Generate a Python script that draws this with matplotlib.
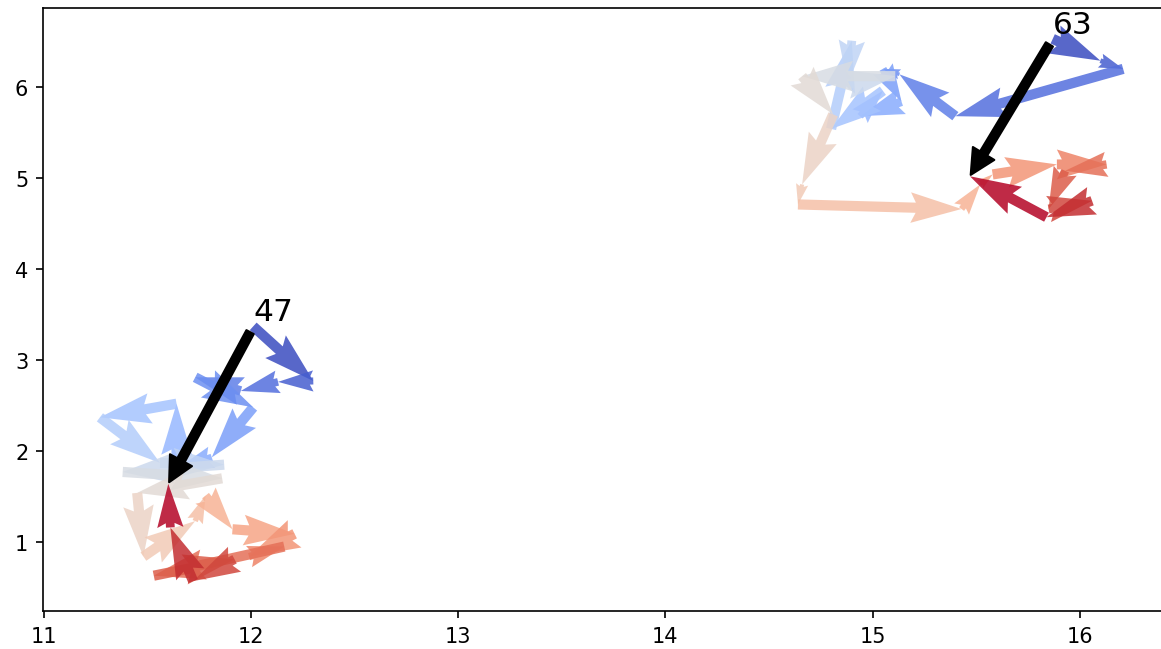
import numpy as np
import matplotlib
matplotlib.use("Agg")
import matplotlib.pyplot as plt

# trajectory 47 (start -> end)
x47 = [12.01, 12.30, 12.13, 11.95, 11.73, 12.01, 11.81, 11.64, 11.64, 11.27,
       11.56, 11.87, 11.38, 11.86, 11.45, 11.48, 11.73, 11.78, 11.91, 12.21,
       11.99, 12.16, 11.53, 11.92, 11.72, 11.61, 11.60]
y47 = [3.37, 2.77, 2.76, 2.66, 2.81, 2.48, 1.93, 1.80, 2.52, 2.37,
       1.87, 1.85, 1.77, 1.70, 1.54, 0.84, 1.23, 1.51, 1.14, 1.09,
       0.84, 0.95, 0.63, 0.81, 0.57, 1.16, 1.64]

# trajectory 63 (start -> end)
x63 = [15.87, 16.10, 16.21, 15.40, 15.13, 15.05, 15.14, 14.94, 15.05, 14.80,
       14.90, 14.88, 15.11, 14.66, 14.81, 14.66, 14.64, 15.43, 15.52, 15.58,
       15.89, 16.13, 15.93, 15.85, 16.06, 15.84, 15.47]
y63 = [6.53, 6.29, 6.20, 5.68, 6.14, 6.20, 5.84, 5.68, 5.96, 5.54,
       6.51, 6.03, 6.12, 6.12, 5.70, 4.93, 4.71, 4.66, 4.93, 5.04,
       5.15, 5.15, 5.08, 4.66, 4.75, 4.57, 5.02]

tracks = {"47": (x47, y47), "63": (x63, y63)}

fig = plt.figure(figsize=(7.74, 4.3333), dpi=150)
ax = fig.add_axes([0.037, 0.0585, 0.975, 0.9275])

for label, (xs, ys) in tracks.items():
    xs = np.array(xs)
    ys = np.array(ys)
    dx = np.diff(xs)
    dy = np.diff(ys)
    colors = plt.cm.coolwarm(np.linspace(0, 1, len(dx)))
    ax.quiver(xs[:-1], ys[:-1], dx, dy, color=colors, angles='xy',
              scale_units='xy', scale=1, width=0.009, alpha=0.85)
    ax.annotate(label, xy=(xs[-1], ys[-1]), xytext=(xs[0], ys[0]),
                va='bottom', fontsize=15,
                arrowprops=dict(facecolor='black', shrink=0.01))

ax.set_xlim(10.995, 16.46)
ax.set_ylim(0.242, 6.868)
ax.set_xticks([11, 12, 13, 14, 15, 16])
ax.set_yticks([1, 2, 3, 4, 5, 6])

fig.savefig("out.png", dpi=150)
